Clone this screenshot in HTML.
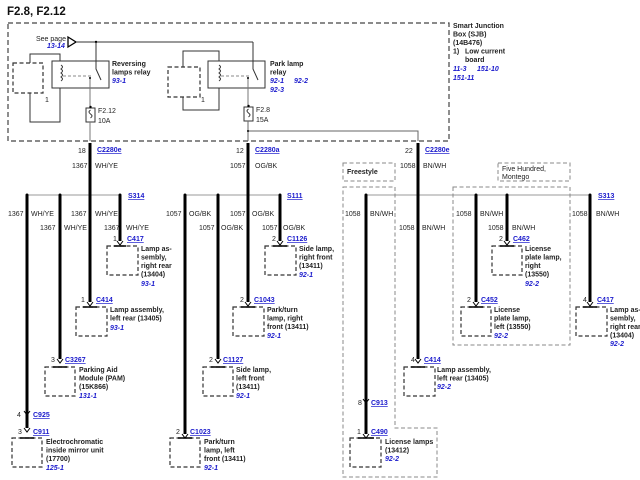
<!DOCTYPE html>
<html><head><meta charset="utf-8"><style>
html,body{margin:0;padding:0;background:#fff;}
svg{display:block;}
text{font-family:"Liberation Sans",sans-serif;font-size:7px;fill:#222;}
.b{font-weight:bold;}
.u{fill:#1a1acc;font-weight:bold;font-style:italic;}
.c{fill:#1a1acc;font-weight:bold;text-decoration:underline;}
.t{font-size:11.5px;font-weight:bold;fill:#111;}
.w{stroke:#000;stroke-width:3;fill:none;}
.th{stroke:#333;stroke-width:1;fill:none;}
.g{stroke:#888;stroke-width:1;fill:none;}
.d{stroke:#333;stroke-width:1.2;fill:#fff;stroke-dasharray:4,2.5;}
.rg{stroke:#888;stroke-width:1;fill:none;stroke-dasharray:4,2.5;}
</style></head><body>
<svg width="640" height="480" viewBox="0 0 640 480" xmlns="http://www.w3.org/2000/svg">
<text x="7" y="15" class="t">F2.8, F2.12</text>
<!-- SJB box -->
<path d="M8,23 H449 V141 H8 Z" fill="none" stroke="#444" stroke-width="1.2" stroke-dasharray="5,3"/>
<text x="453" y="28" class="b">Smart Junction</text>
<text x="453" y="36.5" class="b">Box (SJB)</text>
<text x="453" y="45" class="b">(14B476)</text>
<text x="453" y="53.5" class="b">1)</text><text x="465" y="53.5" class="b">Low current</text>
<text x="465" y="62" class="b">board</text>
<text x="453" y="71" class="u">11-3</text><text x="477" y="71" class="u">151-10</text>
<text x="453" y="80" class="u">151-11</text>
<!-- see page -->
<text x="36" y="41">See page</text>
<text x="47" y="48" class="u">13-14</text>
<path d="M68,37 L76,42 L68,47 Z" fill="#fff" stroke="#000" stroke-width="1.3"/>
<path d="M76,42 H253" class="th"/>
<circle cx="96" cy="42" r="1.2" fill="#000"/>
<!-- reversing relay -->
<rect x="30" y="54" width="30" height="68" class="th"/>
<rect x="13" y="63" width="30" height="30" class="d"/>
<text x="45" y="102">1</text>
<rect x="52" y="61" width="57" height="27" fill="#fff" stroke="#333" stroke-width="1"/>
<path d="M61,65 q3,2 0,4 q3,2 0,4 q3,2 0,4 q3,2 0,4" class="th"/>
<path d="M63,76 H92" stroke="#888" stroke-dasharray="3,2" fill="none"/>
<path d="M96,42 V69 L101,80" class="th"/>
<path d="M90,78 V108" stroke="#777" fill="none"/>
<circle cx="90" cy="78" r="1" fill="#000"/>
<rect x="86" y="108" width="9" height="14" fill="#fff" stroke="#333"/>
<path d="M90.5,110 q-3,2 0,4 q3,2 0,4" class="th"/>
<circle cx="90.5" cy="107" r="1.2" fill="#000"/>
<text x="98" y="113">F2.12</text><text x="98" y="123">10A</text>
<path d="M90,122 V141" stroke="#777" fill="none"/>
<text x="112" y="66" class="b">Reversing</text>
<text x="112" y="74.5" class="b">lamps relay</text>
<text x="112" y="83" class="u">93-1</text>
<!-- park relay -->
<rect x="183" y="51" width="36" height="59" class="th"/>
<rect x="168" y="67" width="32" height="30" class="d"/>
<text x="201" y="102">1</text>
<rect x="208" y="61" width="57" height="27" fill="#fff" stroke="#333"/>
<path d="M219,65 q3,2 0,4 q3,2 0,4 q3,2 0,4 q3,2 0,4" class="th"/>
<path d="M221,76 H250" stroke="#888" stroke-dasharray="3,2" fill="none"/>
<path d="M253,42 V69 L258,80" class="th"/>
<path d="M248,78 V107" stroke="#777" fill="none"/>
<circle cx="248" cy="78" r="1" fill="#000"/>
<rect x="244" y="107" width="9" height="14" fill="#fff" stroke="#333"/>
<path d="M248.5,109 q-3,2 0,4 q3,2 0,4" class="th"/>
<circle cx="248.5" cy="106" r="1.2" fill="#000"/>
<text x="256" y="112">F2.8</text><text x="256" y="122">15A</text>
<path d="M248,121 V141 M248,131 H418 V141" stroke="#666" fill="none"/>
<circle cx="248" cy="131" r="1" fill="#000"/>
<text x="270" y="66" class="b">Park lamp</text>
<text x="270" y="74.5" class="b">relay</text>
<text x="270" y="83" class="u">92-1</text><text x="294" y="83" class="u">92-2</text>
<text x="270" y="92" class="u">92-3</text>
<!-- main feeders -->
<path d="M90,143 V195 M248,143 V195 M418,143 V195" class="w"/>
<text x="78" y="153">18</text><text x="97" y="152" class="c">C2280e</text>
<text x="72" y="168">1367</text><text x="95" y="168">WH/YE</text>
<text x="236" y="153">12</text><text x="255" y="152" class="c">C2280a</text>
<text x="230" y="168">1057</text><text x="255" y="168">OG/BK</text>
<text x="405" y="153">22</text><text x="425" y="152" class="c">C2280e</text>
<text x="400" y="168">1058</text><text x="423" y="168">BN/WH</text>
<!-- buses -->
<path d="M27,195 H120 M185,195 H280 M366,195 H590" stroke="#999" fill="none"/>
<g fill="#000"><circle cx="27" cy="195" r="1.5"/><circle cx="60" cy="195" r="1.5"/><circle cx="90" cy="195" r="1.5"/><circle cx="120" cy="195" r="1.5"/>
<circle cx="185" cy="195" r="1.5"/><circle cx="218" cy="195" r="1.5"/><circle cx="248" cy="195" r="1.5"/><circle cx="280" cy="195" r="1.5"/>
<circle cx="366" cy="195" r="1.5"/><circle cx="418" cy="195" r="1.5"/><circle cx="476" cy="195" r="1.5"/><circle cx="507" cy="195" r="1.5"/><circle cx="590" cy="195" r="1.5"/></g>
<text x="128" y="198" class="c">S314</text>
<text x="287" y="198" class="c">S111</text>
<text x="598" y="198" class="c">S313</text>
<!-- regions -->
<rect x="343" y="163" width="52" height="18" class="rg"/><text x="347" y="174" class="b">Freestyle</text>
<rect x="498" y="163" width="72" height="18" class="rg"/><text x="502" y="171">Five Hundred,</text><text x="502" y="179">Montego</text>
<path d="M343,187 H395 V428 H437 V477 H343 Z" class="rg"/>
<path d="M453,187 H570 V345 H453 Z" class="rg"/>
<!-- verticals -->
<path d="M27,195 V428 M60,195 V359 M90,195 V302 M120,195 V241
M185,195 V434 M218,195 V359 M248,195 V302 M280,195 V241
M366,195 V434 M418,195 V359 M476,195 V302 M507,195 V241 M590,195 V302" class="w"/>
<!-- wire labels -->
<text x="8" y="216">1367</text><text x="31" y="216">WH/YE</text>
<text x="71" y="216">1367</text><text x="95" y="216">WH/YE</text>
<text x="40" y="230">1367</text><text x="64" y="230">WH/YE</text>
<text x="104" y="230">1367</text><text x="126" y="230">WH/YE</text>
<text x="166" y="216">1057</text><text x="189" y="216">OG/BK</text>
<text x="230" y="216">1057</text><text x="252" y="216">OG/BK</text>
<text x="199" y="230">1057</text><text x="221" y="230">OG/BK</text>
<text x="262" y="230">1057</text><text x="283" y="230">OG/BK</text>
<text x="345" y="216">1058</text><text x="370" y="216">BN/WH</text>
<text x="456" y="216">1058</text><text x="480" y="216">BN/WH</text>
<text x="572" y="216">1058</text><text x="596" y="216">BN/WH</text>
<text x="399" y="230">1058</text><text x="422" y="230">BN/WH</text>
<text x="488" y="230">1058</text><text x="512" y="230">BN/WH</text>
<!-- chevrons -->
<g stroke="#000" stroke-width="1" fill="none">
<path d="M117,241 l3,4 l3,-4 M87,302 l3,4 l3,-4 M57,359 l3,4 l3,-4 M24,411 l3,4 l3,-4 M24,428 l3,4 l3,-4
M277,241 l3,4 l3,-4 M245,302 l3,4 l3,-4 M215,359 l3,4 l3,-4 M182,434 l3,4 l3,-4
M504,241 l3,4 l3,-4 M473,302 l3,4 l3,-4 M587,302 l3,4 l3,-4 M415,359 l3,4 l3,-4 M363,399 l3,4 l3,-4 M363,434 l3,4 l3,-4"/>
</g>
<!-- component boxes -->
<rect x="107" y="246" width="31" height="29" class="d"/><path d="M114,246 H126" stroke="#000" stroke-width="1.5"/>
<rect x="76" y="307" width="31" height="29" class="d"/><path d="M83,307 H97" stroke="#000" stroke-width="1.5"/>
<rect x="45" y="367" width="30" height="29" class="d"/><path d="M53,367 H67" stroke="#000" stroke-width="1.5"/>
<rect x="12" y="438" width="30" height="29" class="d"/><path d="M20,438 H34" stroke="#000" stroke-width="1.5"/>
<rect x="265" y="246" width="31" height="29" class="d"/><path d="M273,246 H287" stroke="#000" stroke-width="1.5"/>
<rect x="233" y="307" width="31" height="29" class="d"/><path d="M241,307 H255" stroke="#000" stroke-width="1.5"/>
<rect x="203" y="367" width="30" height="29" class="d"/><path d="M211,367 H225" stroke="#000" stroke-width="1.5"/>
<rect x="170" y="438" width="30" height="29" class="d"/><path d="M178,438 H192" stroke="#000" stroke-width="1.5"/>
<rect x="492" y="246" width="30" height="29" class="d"/><path d="M500,246 H514" stroke="#000" stroke-width="1.5"/>
<rect x="461" y="307" width="30" height="29" class="d"/><path d="M469,307 H483" stroke="#000" stroke-width="1.5"/>
<rect x="576" y="307" width="31" height="29" class="d"/><path d="M583,307 H597" stroke="#000" stroke-width="1.5"/>
<rect x="404" y="367" width="31" height="29" class="d"/><path d="M411,367 H425" stroke="#000" stroke-width="1.5"/>
<rect x="350" y="438" width="31" height="29" class="d"/><path d="M358,438 H374" stroke="#000" stroke-width="1.5"/>
<!-- connector labels and descriptions -->
<text x="113" y="241">1</text><text x="127" y="241" class="c">C417</text>
<text x="141" y="251" class="b">Lamp as-</text><text x="141" y="259.5" class="b">sembly,</text><text x="141" y="268" class="b">right rear</text><text x="141" y="276.5" class="b">(13404)</text><text x="141" y="286" class="u">93-1</text>
<text x="81" y="302">1</text><text x="96" y="302" class="c">C414</text>
<text x="110" y="312" class="b">Lamp assembly,</text><text x="110" y="320.5" class="b">left rear (13405)</text><text x="110" y="330" class="u">93-1</text>
<text x="51" y="362">3</text><text x="65" y="362" class="c">C3267</text>
<text x="79" y="372" class="b">Parking Aid</text><text x="79" y="380.5" class="b">Module (PAM)</text><text x="79" y="389" class="b">(15K866)</text><text x="79" y="398" class="u">131-1</text>
<text x="17" y="417">4</text><text x="33" y="417" class="c">C925</text>
<text x="18" y="434">3</text><text x="33" y="434" class="c">C911</text>
<text x="46" y="444" class="b">Electrochromatic</text><text x="46" y="452.5" class="b">inside mirror unit</text><text x="46" y="461" class="b">(17700)</text><text x="46" y="470" class="u">125-1</text>
<text x="272" y="241">2</text><text x="287" y="241" class="c">C1126</text>
<text x="299" y="251" class="b">Side lamp,</text><text x="299" y="259.5" class="b">right front</text><text x="299" y="268" class="b">(13411)</text><text x="299" y="277" class="u">92-1</text>
<text x="240" y="302">2</text><text x="254" y="302" class="c">C1043</text>
<text x="267" y="312" class="b">Park/turn</text><text x="267" y="320.5" class="b">lamp, right</text><text x="267" y="329" class="b">front (13411)</text><text x="267" y="338" class="u">92-1</text>
<text x="209" y="362">2</text><text x="223" y="362" class="c">C1127</text>
<text x="236" y="372" class="b">Side lamp,</text><text x="236" y="380.5" class="b">left front</text><text x="236" y="389" class="b">(13411)</text><text x="236" y="398" class="u">92-1</text>
<text x="176" y="434">2</text><text x="190" y="434" class="c">C1023</text>
<text x="204" y="444" class="b">Park/turn</text><text x="204" y="452.5" class="b">lamp, left</text><text x="204" y="461" class="b">front (13411)</text><text x="204" y="470" class="u">92-1</text>
<text x="499" y="241">2</text><text x="513" y="241" class="c">C462</text>
<text x="525" y="251" class="b">License</text><text x="525" y="259.5" class="b">plate lamp,</text><text x="525" y="268" class="b">right</text><text x="525" y="276.5" class="b">(13550)</text><text x="525" y="286" class="u">92-2</text>
<text x="467" y="302">2</text><text x="481" y="302" class="c">C452</text>
<text x="494" y="312" class="b">License</text><text x="494" y="320.5" class="b">plate lamp,</text><text x="494" y="329" class="b">left (13550)</text><text x="494" y="338" class="u">92-2</text>
<text x="583" y="302">4</text><text x="597" y="302" class="c">C417</text>
<text x="610" y="312" class="b">Lamp as-</text><text x="610" y="320.5" class="b">sembly,</text><text x="610" y="329" class="b">right rear</text><text x="610" y="337.5" class="b">(13404)</text><text x="610" y="346" class="u">92-2</text>
<text x="411" y="362">4</text><text x="424" y="362" class="c">C414</text>
<text x="437" y="372" class="b">Lamp assembly,</text><text x="437" y="380.5" class="b">left rear (13405)</text><text x="437" y="389" class="u">92-2</text>
<text x="358" y="405">8</text><text x="371" y="405" class="c">C913</text>
<text x="357" y="434">1</text><text x="371" y="434" class="c">C490</text>
<text x="385" y="444" class="b">License lamps</text><text x="385" y="452.5" class="b">(13412)</text><text x="385" y="461" class="u">92-2</text>
</svg>
</body></html>
